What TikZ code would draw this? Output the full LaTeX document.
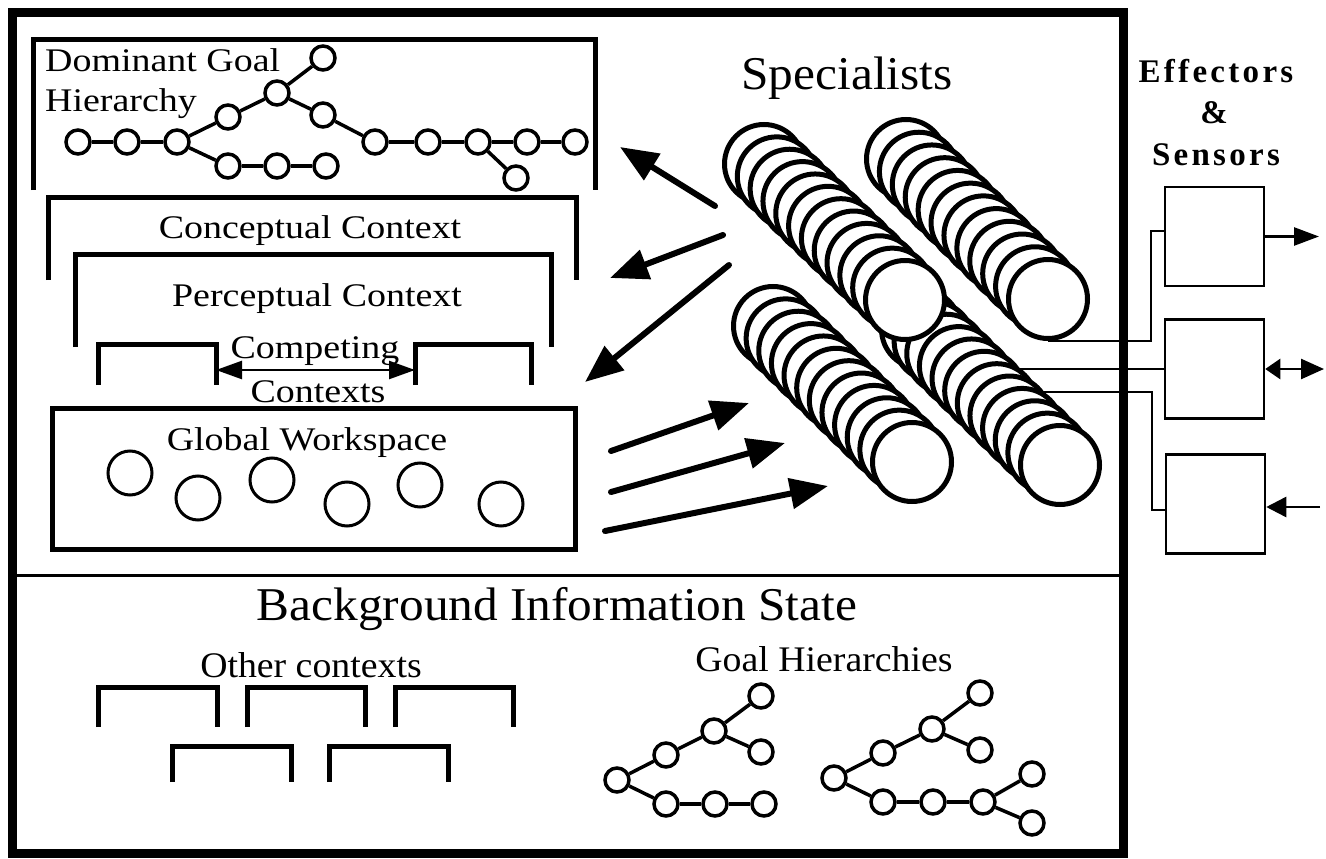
\documentclass[tikz,border=0pt]{standalone}
\usepackage{fontspec}
\setmainfont{Liberation Serif}
\newfontfamily\fa[FakeStretch=1.15]{Liberation Serif}
\newfontfamily\fb[FakeStretch=1.05]{Liberation Serif}
\newfontfamily\fe[LetterSpace=10]{Liberation Serif}
\usetikzlibrary{arrows.meta}
\begin{document}
\begin{tikzpicture}[x=1pt,y=-1pt,
  lab/.style={inner sep=0pt,anchor=base,font=\fa\fontsize{33}{36}\selectfont},
  labL/.style={lab,anchor=base west},
  blab/.style={inner sep=0pt,anchor=base,font=\fb\fontsize{36}{40}\selectfont},
  elab/.style={inner sep=0pt,anchor=base,font=\fe\bfseries\fontsize{33}{36}\selectfont},
  brk/.style={line width=5pt},
  gn/.style={circle,draw,line width=3.5pt,minimum size=24pt,inner sep=0pt,fill=white},
  ge/.style={line width=3.5pt},
  gw/.style={circle,draw,line width=3pt,minimum size=44pt,inner sep=0pt},
  spec/.style={circle,draw,line width=5pt,minimum size=79pt,inner sep=0pt,fill=white},
  wire/.style={line width=2.5pt},
  ebox/.style={draw,line width=2.5pt,minimum width=99pt,minimum height=99pt,inner sep=0pt},
  bigarrow/.style={line width=6pt,line cap=round,-{Triangle[length=38pt,width=30pt]}},
]
\useasboundingbox (0,0) rectangle (1326,859);

% ---------- divider ----------
\draw[line width=3pt] (12,575) -- (1123,575);

% ---------- Dominant goal hierarchy ----------
\draw[brk] (33,190) |- (595,40) -- (595,190);
\node[labL] (dg1) at (45,71) {Dominant Goal};
\node[labL] (dg2) at (45,111) {Hierarchy};
\foreach \n/\px/\py in {t1/78/142,t2/127/142,t3/177/142,t4/228/117,t5/277/93,t6/323/58,
  t7/323/115,t8/375/142,t9/428/142,t10/478/142,t11/527/142,t12/575/142,t13/516/178,
  t14/228/166,t15/277/166,t16/326/166}
  \node[gn] (\n) at (\px,\py) {};
\foreach \a/\b in {t1/t2,t2/t3,t3/t4,t4/t5,t5/t6,t5/t7,t7/t8,t8/t9,t9/t10,t10/t11,
  t11/t12,t10/t13,t3/t14,t14/t15,t15/t16}
  \draw[ge] (\a) -- (\b);

% ---------- contexts ----------
\draw[brk] (48,280) |- (576,197) -- (576,280);
\node[lab] (cc) at (310,238) {Conceptual Context};
\draw[brk] (75,347) |- (551,254) -- (551,347);
\node[lab] (pc) at (317,306) {Perceptual Context};
\draw[brk] (98,385) |- (216,344) -- (216,385);
\draw[brk] (415,385) |- (531,344) -- (531,385);
\node[lab] (cp1) at (315,358) {Competing};
\node[lab] (cp2) at (318,402) {Contexts};
\coordinate (cl) at (216,370);
\coordinate (cr) at (415,370);
\draw[line width=2.5pt,{Triangle[length=26pt,width=18pt]}-{Triangle[length=26pt,width=18pt]}] (cl) -- (cr);

% ---------- global workspace ----------
\draw[brk] (52,408) rectangle (575,549);
\node[lab] (gwl) at (307,450) {Global Workspace};
\foreach \n/\px/\py in {g1/130/473,g2/198/498,g3/272/480,g4/347/504,g5/420/485,g6/501/504}
  \node[gw] (\n) at (\px,\py) {};

% ---------- effectors & sensors ----------
\node[elab] (ef1) at (1216,83) {Effectors};
\node[elab] (ef2) at (1214,124) {\&};
\node[elab] (ef3) at (1216,165) {Sensors};
\node[ebox] (e1) at (1214.5,236.5) {};
\node[ebox] (e2) at (1214.5,369) {};
\node[ebox] (e3) at (1215.5,504) {};
\coordinate (o1) at (1319,236.5);
\coordinate (o2) at (1324,369);
\coordinate (o3) at (1320,507);
\coordinate (j1) at (1151,231);
\coordinate (w2) at (975,369);
\coordinate (w3) at (1000,392);
\coordinate (j3) at (1152,510);
\draw[wire,-{Triangle[length=25pt,width=18pt]}] (e1.east) -- (o1);
\draw[wire,{Triangle[length=15pt,width=20pt]}-{Triangle[length=23pt,width=20pt]}] (e2.east) -- (o2);
\draw[wire,-{Triangle[length=20pt,width=20pt]}] (o3) -- (o3 -| e3.east);

% ---------- specialists ----------
\node[inner sep=0pt,anchor=base,font=\fb\fontsize{47}{50}\selectfont] (sp) at (847,90) {Specialists};
\draw[wire] (w2) -- (w2 -| e2.west);
\draw[wire] (w3) -| (j3) -- (j3 -| e3.west);
\foreach \n/\ax/\ay/\bx/\by in {D/921/329/1060/465, A/764/164/905/300, B/906/159/1048/299, C/773/326/912/462}{
  \foreach \k in {0,...,11}{
    \node[spec] (s\n\k) at ({\ax+(\bx-\ax)*\k/11},{\ay+(\by-\ay)*\k/11}) {};
  }
}
\draw[wire] (sB11.south) -| (j1) -- (j1 -| e1.west);

% outer frame on top of wires
\draw[line width=9pt] (12,12.5) rectangle (1123,853);

% ---------- arrows ----------
\coordinate (a1s) at (715,206); \coordinate (a1e) at (620,147);
\coordinate (a2s) at (723,235); \coordinate (a2e) at (610,278);
\coordinate (a3s) at (729,265); \coordinate (a3e) at (585,382);
\coordinate (b1s) at (611,451); \coordinate (b1e) at (749,403);
\coordinate (b2s) at (611,492); \coordinate (b2e) at (785,443);
\coordinate (b3s) at (605,531); \coordinate (b3e) at (828,486);
\foreach \s/\e in {a1s/a1e,a2s/a2e,a3s/a3e,b1s/b1e,b2s/b2e,b3s/b3e}
  \draw[bigarrow] (\s) -- (\e);

% ---------- background information state ----------
\node[inner sep=0pt,anchor=base,font=\fb\fontsize{47}{50}\selectfont] (bis) at (557,620) {Background Information State};
\node[blab] (oc) at (311,677) {Other contexts};
\draw[brk] (98,727) |- (217,687) -- (217,727);
\draw[brk] (247,727) |- (365,687) -- (365,727);
\draw[brk] (395,727) |- (513,687) -- (513,727);
\draw[brk] (172,782) |- (291,746) -- (291,782);
\draw[brk] (329,782) |- (448,746) -- (448,782);

\node[blab] (gh) at (824,671) {Goal Hierarchies};
\foreach \n/\px/\py in {a1/617/780,a2/666/755,a3/714/731,a4/761/696,a5/761/752,a6/666/804,a7/715/804,a8/764/804,
  b1/834/778,b2/883/753,b3/932/729,b4/980/693,b5/980/750,b6/883/802,b7/933/802,b8/983/802,b9/1032/774,b10/1032/823}
  \node[gn] (\n) at (\px,\py) {};
\foreach \a/\b in {a1/a2,a2/a3,a3/a4,a3/a5,a1/a6,a6/a7,a7/a8,
  b1/b2,b2/b3,b3/b4,b3/b5,b1/b6,b6/b7,b7/b8,b8/b9,b8/b10}
  \draw[ge] (\a) -- (\b);
\end{tikzpicture}
\end{document}
